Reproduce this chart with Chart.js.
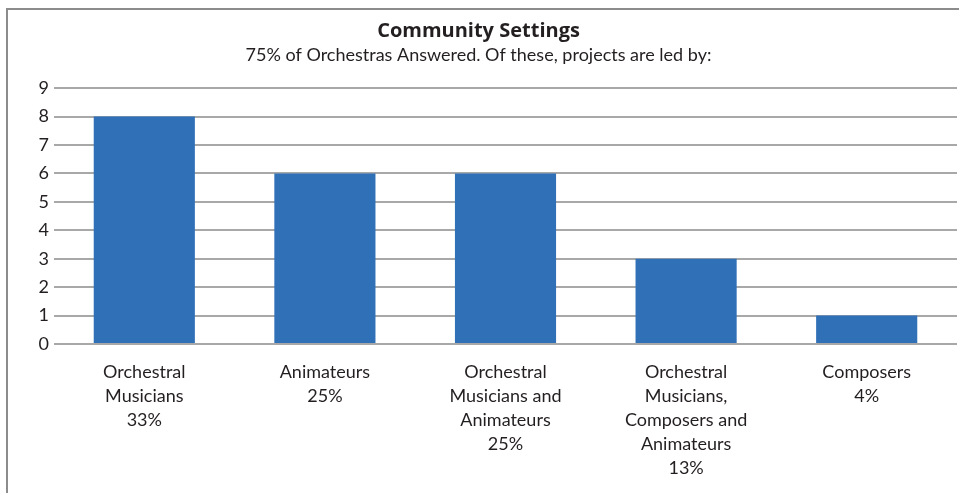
<!DOCTYPE html>
<html>
<head>
<meta charset="utf-8">
<script src="https://cdn.jsdelivr.net/npm/chart.js@4"></script>
<style>
  body { margin: 0; background: #fff; }
  #wrap { position: relative; width: 959px; height: 493px; }
  #frame { position: absolute; left: 6px; top: 8px; right: -4px; bottom: -4px; border: 2px solid #8c8c8c; }
  canvas { position: absolute; left: 0; top: 0; }
</style>
</head>
<body>
<div id="wrap">
  <div id="frame"></div>
  <canvas id="chart" width="959" height="493"></canvas>
</div>
<script>
const categories = [
  ['Orchestral', 'Musicians', '33%'],
  ['Animateurs', '25%'],
  ['Orchestral', 'Musicians and', 'Animateurs', '25%'],
  ['Orchestral', 'Musicians,', 'Composers and', 'Animateurs', '13%'],
  ['Composers', '4%']
];
const counts = [8, 6, 6, 3, 1];
const yTicks = [0, 1, 2, 3, 4, 5, 6, 7, 8, 9];

const FONT = 'Lato, "Open Sans", sans-serif';
const ink = '#231f20';

const ctx = document.getElementById('chart').getContext('2d');
new Chart(ctx, {
  type: 'bar',
  data: {
    labels: categories,
    datasets: [{
      data: counts,
      backgroundColor: '#2f70b7',
      categoryPercentage: 0.56,
      barPercentage: 1
    }]
  },
  options: {
    responsive: false,
    animation: false,
    layout: { padding: { left: 0, right: 2, top: 0, bottom: 0 } },
    plugins: {
      legend: { display: false },
      tooltip: { enabled: false },
      title: {
        display: true,
        text: 'Community Settings',
        color: ink,
        font: { family: '"Open Sans", Lato, sans-serif', size: 20, weight: 'bold' },
        padding: { top: 19, bottom: 1 }
      },
      subtitle: {
        display: true,
        text: '75% of Orchestras Answered. Of these, projects are led by:',
        color: ink,
        font: { family: FONT, size: 18 },
        padding: { top: 0, bottom: 22.5 }
      }
    },
    scales: {
      x: {
        grid: { display: false },
        border: { display: false },
        ticks: {
          color: ink,
          font: { family: FONT, size: 18, lineHeight: 1.333 },
          maxRotation: 0,
          autoSkip: false,
          padding: 8
        },
        afterFit: s => { s.height = 493 - 344; }
      },
      y: {
        min: 0,
        max: 9,
        afterBuildTicks: s => { s.ticks = yTicks.map(v => ({ value: v })); },
        grid: { color: '#a8a8a8', lineWidth: 2, drawTicks: false },
        border: { display: false },
        ticks: {
          color: ink,
          font: { family: FONT, size: 18 },
          padding: 5
        },
        afterFit: s => { s.width = 54; }
      }
    }
  }
});
</script>
</body>
</html>
